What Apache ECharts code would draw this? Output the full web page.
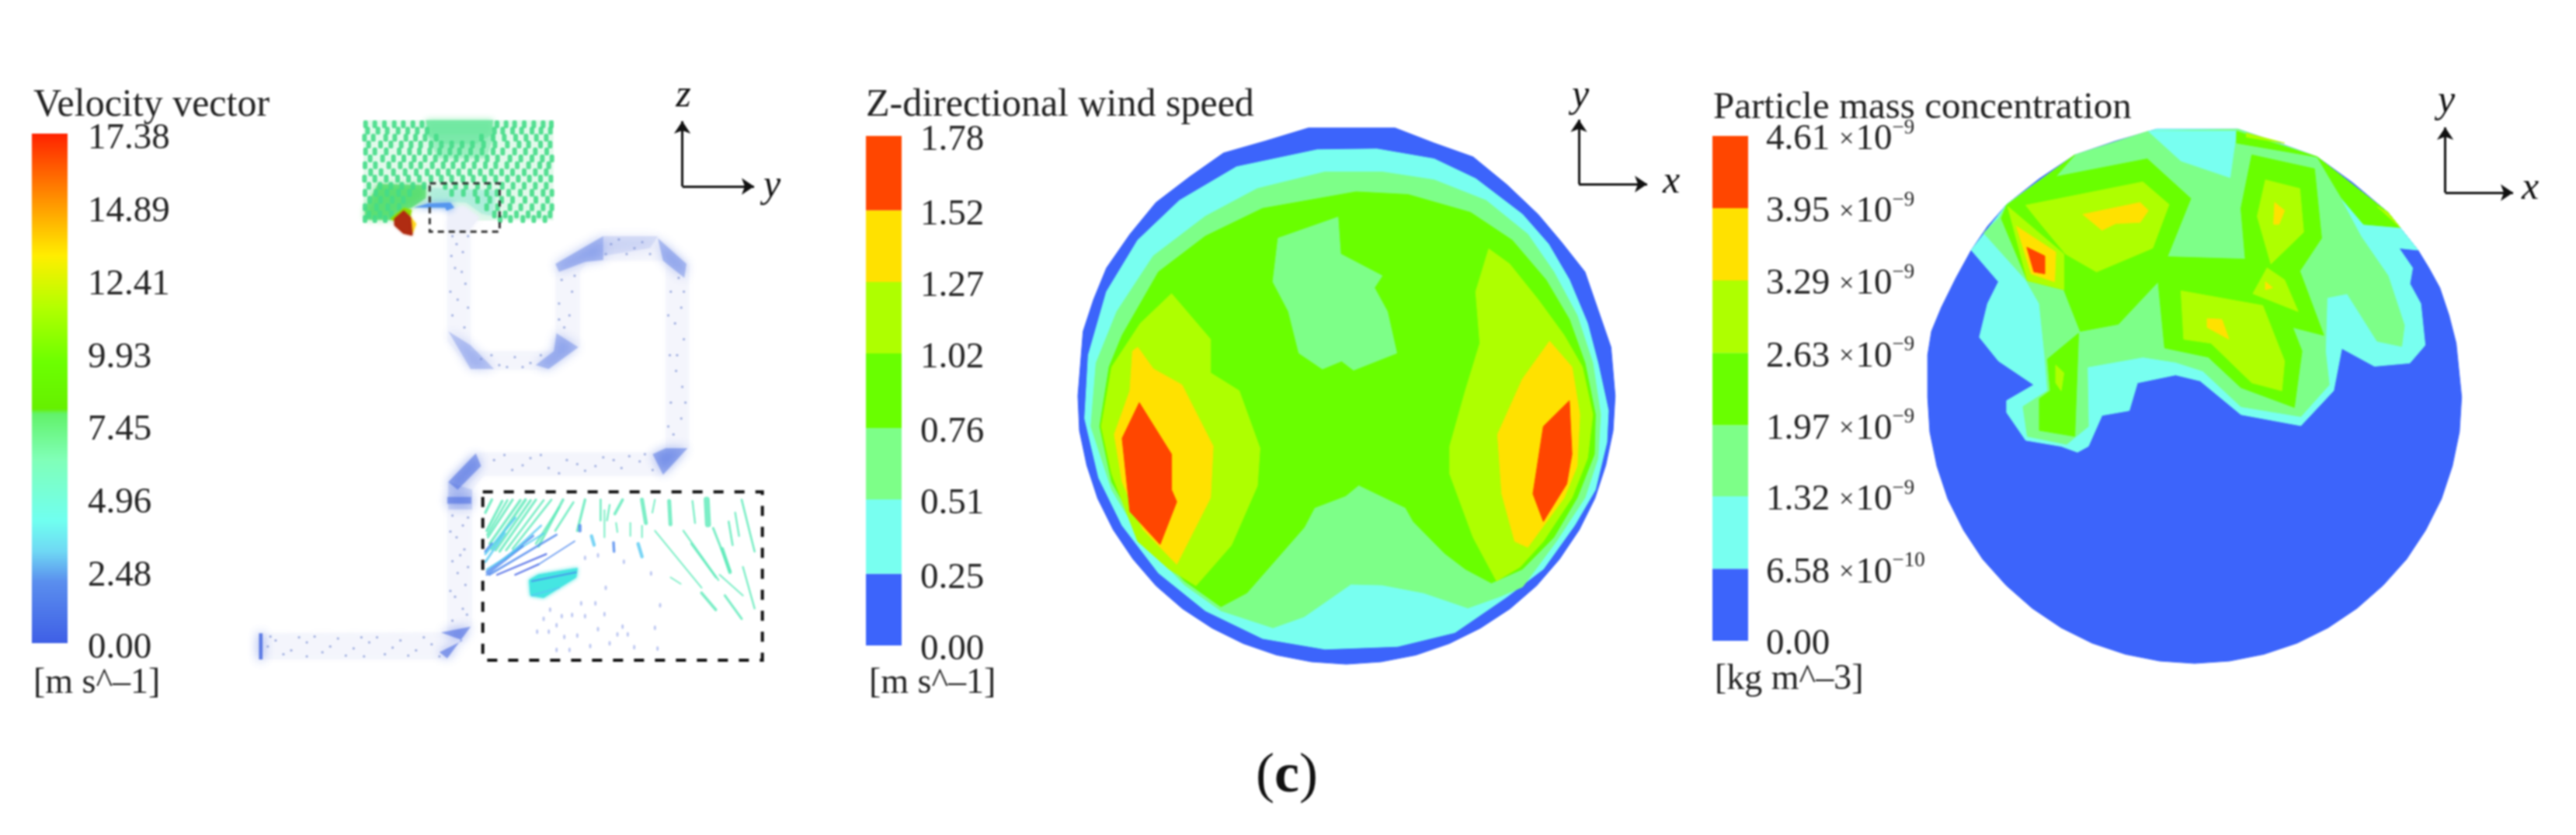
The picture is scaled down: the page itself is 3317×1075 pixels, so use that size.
<!DOCTYPE html>
<html>
<head>
<meta charset="utf-8">
<script src="https://cdn.jsdelivr.net/npm/echarts@6/dist/echarts.min.js"></script>
<style>html,body{margin:0;background:#fff}#main{width:3317px;height:1075px;filter:blur(0.9px)}</style>
</head>
<body>
<div id="main"></div>
<script>
const levelColors = ['#3c64fb', '#78fff0', '#7dff88', '#69ff00', '#aeff00', '#ffe100', '#ff4600'];

// colour bars
const velocityEdges = [0, 2.48, 4.96, 7.45, 9.93, 12.41, 14.89, 17.38];
const windEdges = [0, 0.25, 0.51, 0.76, 1.02, 1.27, 1.52, 1.78];
const particleEdges = [0, 0.658, 1.32, 1.97, 2.63, 3.29, 3.95, 4.61];
const particleLabels = ['0.00', '6.58', '1.32', '1.97', '2.63', '3.29', '3.95', '4.61'];
const particleExps = ['', '\u221210', '\u22129', '\u22129', '\u22129', '\u22129', '\u22129', '\u22129'];
const velocityStops = [
  [0, '#3f5fe6'], [0.12, '#5a8eee'], [0.18, '#6fd8f4'], [0.24, '#70fff0'], [0.36, '#80ffb8'],
  [0.45, '#62f26a'], [0.46, '#66f000'], [0.55, '#6cff00'], [0.66, '#b4ff00'], [0.76, '#ffee00'],
  [0.86, '#ff9a00'], [1, '#ff2200']
];

// wind speed contours, [level, outline]
const windContours = [
  [0, [[888,127],[1055,127],[1130,165],[1205,200],[1270,270],[1330,345],[1375,415],[1420,490],[1445,585],[1470,680],[1478,803],[1474,891],[1460,978],[1439,1062],[1409,1141],[1371,1215],[1327,1282],[1276,1340],[1219,1389],[1159,1428],[1095,1457],[1028,1474],[961,1480],[894,1474],[827,1457],[763,1428],[703,1389],[646,1340],[595,1282],[551,1215],[513,1141],[483,1062],[462,978],[448,891],[445,803],[455,640],[475,560],[500,480],[545,395],[595,315],[660,250],[725,190],[805,160]]],
  [1, [[905,182],[1020,180],[1130,205],[1210,255],[1300,345],[1350,420],[1390,510],[1425,620],[1445,720],[1465,840],[1462,920],[1440,1040],[1400,1130],[1340,1240],[1270,1310],[1170,1400],[1060,1435],[920,1442],[800,1415],[690,1345],[600,1250],[530,1130],[485,1010],[458,860],[465,700],[500,540],[560,410],[640,310],[750,225]]],
  [2, [[1030,238],[1130,258],[1230,310],[1310,395],[1360,490],[1405,600],[1435,720],[1450,850],[1445,960],[1420,1060],[1365,1170],[1300,1285],[1255,1310],[1195,1338],[1110,1300],[1030,1280],[970,1278],[935,1310],[880,1360],[820,1388],[720,1345],[650,1280],[570,1170],[510,1040],[470,880],[480,720],[520,590],[590,450],[690,350],[790,280],[920,238]]],
  [3, [[980,288],[1080,295],[1200,340],[1280,410],[1345,510],[1390,610],[1420,720],[1440,850],[1438,950],[1405,1060],[1360,1160],[1300,1240],[1240,1275],[1190,1240],[1150,1200],[1090,1120],[1075,1085],[985,1028],[960,1055],[900,1085],[880,1135],[770,1300],[720,1335],[650,1270],[570,1160],[510,1020],[487,880],[505,730],[530,650],[600,490],[690,400],[800,330]]],
  [2, [[945,352],[950,445],[1030,500],[1015,530],[1040,590],[1058,695],[975,738],[952,715],[915,735],[870,695],[850,590],[820,515],[830,405]]],
  [4, [[625,545],[700,660],[700,745],[755,790],[795,935],[790,1030],[740,1180],[672,1282],[620,1240],[560,1170],[510,1000],[490,880],[510,730],[565,620]]],
  [4, [[1235,432],[1275,470],[1330,560],[1380,650],[1415,730],[1435,850],[1425,960],[1395,1060],[1340,1170],[1295,1235],[1250,1270],[1205,1160],[1160,1000],[1160,930],[1190,790],[1218,670],[1210,540]]],
  [5, [[560,680],[590,735],[645,775],[705,930],[700,1060],[635,1228],[570,1140],[530,1020],[515,900],[545,790],[550,690]]],
  [5, [[1352,665],[1395,730],[1410,850],[1405,980],[1380,1060],[1310,1185],[1285,1170],[1260,1050],[1252,900],[1300,760]]],
  [6, [[563,820],[625,950],[625,1040],[635,1070],[603,1178],[545,1095],[530,910]]],
  [6, [[1390,815],[1395,950],[1385,1025],[1340,1120],[1320,1050],[1340,880]]]
];

// particle concentration contours
const particleContours = [
  [0, [[865,130],[1015,130],[1090,165],[1160,200],[1225,265],[1290,340],[1345,435],[1365,480],[1385,530],[1402,600],[1415,670],[1425,806],[1421,894],[1408,980],[1388,1063],[1359,1142],[1324,1215],[1281,1281],[1233,1339],[1180,1388],[1123,1427],[1062,1455],[999,1472],[935,1478],[871,1472],[808,1455],[747,1427],[690,1388],[637,1339],[589,1281],[546,1215],[511,1142],[482,1063],[462,980],[449,894],[445,806],[445,700],[452,640],[470,580],[497,505],[525,435],[555,375],[590,320],[650,255],[715,195],[790,160]]],
  [1, [[865,130],[1015,130],[1160,200],[1290,340],[1345,435],[1310,430],[1335,480],[1330,520],[1350,570],[1358,675],[1330,720],[1265,728],[1205,683],[1190,790],[1130,878],[1020,850],[945,765],[900,750],[830,770],[815,840],[765,852],[740,930],[720,945],[690,930],[625,915],[590,845],[590,815],[640,775],[575,715],[540,655],[555,570],[575,515],[525,435],[590,320],[715,195]]],
  [2, [[850,135],[715,195],[590,320],[575,355],[548,392],[625,510],[650,570],[660,700],[665,790],[620,830],[628,905],[700,925],[740,880],[738,730],[840,705],[900,718],[950,740],[1020,830],[1130,855],[1182,775],[1175,690],[1178,555],[1215,545],[1270,665],[1315,678],[1320,625],[1290,500],[1240,400],[1205,310],[1170,220],[1160,200],[1015,130]]],
  [1, [[850,135],[1012,135],[1000,252],[910,210]]],
  [3, [[590,322],[715,195],[680,250],[848,205],[928,305],[885,452],[1028,458],[1020,330],[1040,195],[1155,230],[1168,405],[1128,488],[1172,650],[1115,630],[1132,690],[1118,832],[1020,782],[960,705],[880,682],[868,515],[795,622],[725,640],[702,560],[695,535],[628,512],[580,355]]],
  [3, [[722,645],[665,710],[670,790],[650,810],[650,890],[715,905]]],
  [3, [[1160,200],[1290,340],[1312,378],[1245,370],[1205,305]]],
  [3, [[1012,135],[1160,200],[1012,165]]],
  [4, [[625,322],[840,263],[888,320],[858,430],[755,490],[698,445],[650,365]]],
  [4, [[592,325],[695,445],[695,535],[628,512]]],
  [4, [[1065,258],[1128,280],[1135,390],[1075,470],[1050,350]]],
  [4, [[1068,480],[1100,510],[1125,590],[1042,545]]],
  [4, [[910,538],[1060,575],[1100,715],[1095,790],[1040,770],[965,670],[915,660]]],
  [4, [[680,725],[695,745],[690,790],[680,770]]],
  [4, [[1270,325],[1290,340],[1312,378]]],
  [4, [[1030,140],[1100,165],[1030,150]]],
  [5, [[730,345],[835,315],[850,335],[835,365],[790,368],[765,385]]],
  [5, [[608,375],[680,440],[678,515],[635,495]]],
  [5, [[1082,315],[1100,335],[1090,370],[1080,370]]],
  [5, [[1065,515],[1078,530],[1065,535]]],
  [5, [[958,608],[985,610],[998,660],[958,630]]],
  [6, [[627,428],[660,450],[660,495],[640,490]]]
];

// duct outline and the darker patches in its bends
const ductOutline = [[860,357],[860,665],[905,738],[1055,738],[1115,680],[1115,490],[1130,462],[1280,462],[1280,945],[915,945],[860,1020],[860,1400],[498,1402],[498,1468],[860,1468],[908,1385],[908,1040],[930,1005],[1275,1005],[1325,935],[1325,470],[1265,400],[1160,400],[1068,470],[1068,640],[1060,690],[905,690],[905,357]];
const ductPatches = [
  [0.34, [[1160,400],[1068,470],[1075,490],[1125,465],[1160,460]]],
  [0.12, [[1160,400],[1265,400],[1250,430],[1160,450]]],
  [0.34, [[1265,405],[1320,470],[1316,505],[1275,462]]],
  [0.28, [[862,640],[905,735],[950,735],[905,675]]],
  [0.34, [[1112,680],[1055,735],[1030,725],[1065,690],[1070,645]]],
  [0.45, [[1322,935],[1275,1002],[1255,950],[1280,935]]],
  [0.5, [[915,948],[862,1020],[880,1040],[925,980]]],
  [0.18, [[862,1020],[908,1040],[908,1090],[862,1090]]],
  [0.5, [[860,1058],[906,1058],[906,1075],[860,1075]]],
  [0.55, [[905,1385],[860,1465],[845,1450],[890,1420],[848,1400]]],
  [0.8, [[498,1402],[505,1402],[505,1468],[498,1468]]]
];
const ductDots = [
  [530,1420],[560,1445],[590,1425],[620,1450],[650,1415],[680,1440],[710,1425],[740,1455],[770,1420],[800,1445],[830,1430],[545,1455],[605,1410],[665,1458],[725,1412],[785,1458],
  [515,1435],[575,1412],[635,1435],[695,1412],[755,1438],[815,1412],[845,1460],[520,1410],[700,1460],[590,1460],
  [870,1370],[890,1340],[875,1310],[895,1280],[880,1250],[870,1220],[893,1190],[878,1160],[890,1130],[870,1105],[898,1355],[866,1295],[900,1235],[885,1205],[866,1145],[900,1110],
  [950,965],[985,990],[1020,960],[1055,985],[1090,965],[1125,992],[1160,958],[1195,985],[1230,968],[1255,990],[970,952],[1075,998],[1210,955],[1005,978],[1040,952],[1110,975],[1145,980],[1180,965],[1240,950],
  [1295,900],[1310,860],[1290,820],[1312,780],[1300,740],[1288,700],[1315,660],[1298,620],[1310,580],[1290,540],[1305,505],[1285,880],[1318,820],[1302,700],[1285,600],[1315,540],
  [1175,420],[1205,445],[1235,415],[1190,408],[1220,430],[1250,445],[1165,445],
  [1080,510],[1100,540],[1075,570],[1095,600],[1085,630],[1105,500],[1075,610],
  [925,710],[960,725],[990,705],[1020,720],[945,700],[975,730],[1040,700],[1005,730],
  [870,400],[890,440],[875,480],[895,520],[880,560],[870,600],[893,630],[878,420],[888,490],[900,400],[866,540],[900,580],[868,450]
];

// green vector field in the cavity, one row per line: y then the x values
const cavityRows = [
  [60, 92,128,165,203,238,275,310,600,635,668,705,742,778,810],
  [85, 100,140,176,218,255,292,330,590,622,660,695,735,770,806],
  [112, 88,122,170,205,248,285,322,365,540,585,628,672,712,752,790],
  [138, 104,150,190,230,268,305,345,385,425,465,505,548,592,640,685,722,768,805],
  [165, 92,128,172,222,262,300,340,378,418,455,498,542,585,622,668,710,748,792],
  [192, 110,158,200,240,280,322,362,402,442,482,522,562,602,650,692,735,775,812],
  [218, 90,130,182,226,268,305,350,392,430,470,512,555,595,638,678,722,765,800],
  [245, 112,152,200,245,288,330,372,412,452,495,535,578,618,660,705,748,790],
  [270, 88,128,172,216,258,300,345,385,425,468,508,552,595,640,682,725,768,808],
  [298, 105,148,190,232,275,318,400,440,480,525,570,620,662,705,748,790],
  [325, 90,132,175,220,262,425,470,515,560,600,645,690,735,778,812],
  [352, 108,150,195,238,525,572,618,660,708,750,795],
  [380, 90,135,178,222,560,602,650,692,735,778,812],
  [408, 105,148,192,590,632,675,720,762,805],
  [426, 90,128,168,612,652,700,742,785]
];
const cavityFills = [
  ['#6fe8a0', 0.85, [[325,44],[585,44],[580,100],[520,135],[400,135],[335,105]]],
  ['#7fe9ae', 0.45, [[330,100],[590,100],[560,190],[370,190]]],
  ['#4fdc66', 0.7, [[140,290],[325,295],[325,345],[270,382],[232,395],[190,430],[90,428],[90,385]]],
  ['#96e8d4', 0.45, [[340,305],[595,315],[585,415],[540,405],[480,362],[430,360],[340,358]]],
  ['#4a8eee', 0.85, [[278,382],[335,365],[420,362],[435,382],[405,394],[400,382]]]
];
const cavitySolid = [
  ['#8fe000', 1, [[190,425],[240,385],[268,392],[262,420],[225,440]]],
  ['#ffdc20', 1, [[262,415],[286,445],[272,480]]],
  ['#b02c12', 1, [[205,425],[240,395],[265,420],[272,488],[238,480],[205,450]]]
];
const ductTop = [[410,395],[470,375],[530,420],[490,470],[410,470]];
const cavityBack = [[84,44],[818,44],[818,432],[84,432]];
const cavityGap = [[268,385],[410,385],[410,432],[268,432]];

// inset: arrows as x1, y1, x2, y2, width, kind
const insetSegments = [
  [70,70,45,120,9,0],[110,75,50,190,9,0],[130,72,52,205,7,0],[150,70,55,215,8,0],[180,72,62,240,9,0],[200,70,70,260,10,0],[220,72,85,265,8,0],[240,70,100,270,8,0],[270,72,125,265,7,0],[300,70,150,260,7,0],[345,70,250,250,9,0],[330,100,240,240,7,0],[385,80,315,190,7,0],[430,70,400,190,9,0],
  [70,240,45,270,9,1],[230,210,50,350,7,1],[270,200,50,340,6,3],[320,205,60,360,7,1],[280,280,90,360,6,2],[250,320,160,360,6,2],[390,230,250,320,4,1],[160,140,45,280,8,3],[260,170,120,300,7,3],[120,200,45,310,8,3],[190,250,50,360,6,1],
  [490,70,490,150,7,0],[525,90,515,150,6,0],[575,70,545,125,10,0],[650,70,665,160,14,0],[700,70,690,120,5,0],[755,75,760,165,14,0],[845,75,855,160,6,0],[900,70,905,165,22,0],[1035,70,1085,270,7,0],[1010,120,1025,210,6,0],[985,155,1000,245,7,0],[925,180,990,345,8,0],[700,190,880,410,5,0],[810,190,945,380,6,0],[840,240,935,370,6,0],[880,430,935,495,10,0],[1040,330,1085,490,6,0],[970,440,1035,530,8,0],[960,260,990,350,13,0],[950,360,1040,440,5,0],[760,370,800,395,4,0],
  [455,210,465,245,12,3],[540,235,542,270,9,1],[635,240,650,290,12,3],[410,170,410,190,12,1],[605,160,605,210,5,0],[650,170,650,215,5,0],[550,160,555,195,5,0],[505,110,505,215,5,0],
  [225,385,395,350,5,1],[225,440,330,410,6,3]
];
const insetBlob = [[215,380],[250,360],[340,345],[400,335],[395,370],[330,410],[270,448],[220,440]];
const insetSpecks = [[430,520],[505,512],[295,495],[290,580],[480,570],[575,560],[700,565],[720,478],[525,625],[450,635],[350,600],[415,470],[245,580],[400,595],[270,530],[510,410],[620,640],[710,645],[320,650],[370,650],[430,295],[480,285],[580,310],[685,355],[470,470],[340,520],[380,515],[320,555],[555,590],[595,590]];
const insetFrame = [35, 40, 1115, 690];
const cavityFrame = [340, 288, 610, 475];

// axis triads [corner, top of z or y arrow, end of y or x arrow]
const triads = [
  [[878.6,240],[878.6,156],[971,240]],
  [[2033,237],[2033,154],[2121,237]],
  [[3148.6,248],[3148.6,164],[3236,248]]
];

const segColors = ['#5aeab8', '#4a86ee', '#3d5ce4', '#58cbf2'];
const FONT = '"Liberation Serif"';

function hiddenAxes(id, xMax, yMax, grid) {
  return {
    x: { id: 'x' + id, type: 'value', gridIndex: grid, min: 0, max: xMax, show: false },
    y: { id: 'y' + id, type: 'value', gridIndex: grid, min: 0, max: yMax, inverse: true, show: false }
  };
}

function polygonSeries(axis, shapes, z, blur) {
  // shapes: [fill, opacity, outline]
  return {
    type: 'custom', xAxisIndex: axis, yAxisIndex: axis, z: z, silent: true, clip: false,
    animation: false,
    data: shapes.map((s, i) => [i]),
    renderItem: (params, api) => {
      const s = shapes[params.dataIndex];
      return {
        type: 'polygon',
        shape: { points: s[2].map(p => api.coord(p)) },
        style: {
          fill: s[0], opacity: s[1], stroke: s[1] === 1 ? s[0] : 'none', lineWidth: 1,
          shadowBlur: blur || 0, shadowColor: s[0]
        }
      };
    }
  };
}

function frameSeries(axis, box, color, width, dash, z) {
  return {
    type: 'custom', xAxisIndex: axis, yAxisIndex: axis, z: z, silent: true, clip: false,
    animation: false,
    data: [box],
    renderItem: (params, api) => {
      const a = api.coord([api.value(0), api.value(1)]);
      const b = api.coord([api.value(2), api.value(3)]);
      return {
        type: 'rect',
        shape: { x: a[0], y: a[1], width: b[0] - a[0], height: b[1] - a[1] },
        style: { fill: 'none', stroke: color, lineWidth: width, lineDash: dash }
      };
    }
  };
}

function barAxis(grid, edges, margin, shift, formatter, rich) {
  return {
    type: 'value', gridIndex: grid, min: edges[0], max: edges[edges.length - 1], position: 'right',
    axisLine: { show: false }, axisTick: { show: false }, splitLine: { show: false },
    axisLabel: {
      customValues: edges, margin: margin, align: 'left', verticalAlign: 'top', lineHeight: shift,
      color: '#222', fontFamily: FONT, fontSize: 47, formatter: formatter, rich: rich
    }
  };
}

function barSeries(axis, edges, stops) {
  return {
    type: 'custom', xAxisIndex: axis, yAxisIndex: axis, silent: true, animation: false,
    data: edges.slice(1).map((e, i) => [edges[i], e, i]),
    renderItem: (params, api) => {
      const low = api.coord([0, api.value(0)]);
      const high = api.coord([1, api.value(1)]);
      const fill = stops
        ? new echarts.graphic.LinearGradient(0, 1, 0, 0, stops.map(s => ({ offset: s[0], color: s[1] })))
        : levelColors[api.value(2)];
      return {
        type: 'rect',
        shape: { x: low[0], y: high[1], width: high[0] - low[0], height: low[1] - high[1] },
        style: { fill: fill }
      };
    }
  };
}

const pipeA = hiddenAxes('pipe', 1568, 1568, 0);
const windA = hiddenAxes('wind', 1568, 1568, 1);
const partA = hiddenAxes('part', 1568, 1568, 2);
const insetA = hiddenAxes('inset', 1170, 720, 3);
const cavA = hiddenAxes('cav', 900, 540, 4);
const figA = hiddenAxes('fig', 3317, 1075, 5);

const barX = g => ({ type: 'value', gridIndex: g, min: 0, max: 1, show: false });

const cavityDots = [];
cavityRows.forEach(r => r.slice(1).forEach(x => cavityDots.push([x, r[0]])));

const titleText = (text, x, y, size) => ({
  type: 'text', x: x, y: y,
  style: { text: text, fill: '#222', font: size + 'px ' + FONT, verticalAlign: 'middle' }
});
const axisLetter = (text, x, y) => ({
  type: 'text', x: x, y: y,
  style: { text: text, fill: '#111', font: 'italic 50px ' + FONT, align: 'center', verticalAlign: 'middle' }
});

const particleRich = {
  n: { fontFamily: FONT, fontSize: 47, color: '#222', lineHeight: 10 },
  t: { fontFamily: FONT, fontSize: 34, color: '#222', lineHeight: 10, padding: [0, 2, 0, 12] },
  e: { fontFamily: FONT, fontSize: 27, color: '#222', lineHeight: 10, padding: [0, 0, 30, 0] }
};

const option = {
  animation: false,
  backgroundColor: '#fff',
  grid: [
    { left: 0, top: 100, width: 1050, height: 800 },
    { left: 1090, top: 100, width: 1050, height: 800 },
    { left: 2170, top: 100, width: 1100, height: 800 },
    { left: 610, top: 620, width: 390, height: 240 },
    { left: 440, top: 140, width: 300, height: 180 },
    { left: 0, top: 0, width: 3317, height: 1075 },
    { left: 41, top: 172, width: 46, height: 656 },
    { left: 1115, top: 175, width: 46, height: 656 },
    { left: 2205, top: 175, width: 46, height: 650 }
  ],
  xAxis: [pipeA.x, windA.x, partA.x, insetA.x, cavA.x, figA.x, barX(6), barX(7), barX(8)],
  yAxis: [
    pipeA.y, windA.y, partA.y, insetA.y, cavA.y, figA.y,
    barAxis(6, velocityEdges, 26, 14, v => v.toFixed(2)),
    barAxis(7, windEdges, 24, 12, v => v.toFixed(2)),
    barAxis(8, particleEdges, 23, 10, v => {
      const i = particleEdges.indexOf(v);
      return i === 0 ? '{n|0.00}' : '{n|' + particleLabels[i] + '}{t|\u00d7}{n|10}{e|' + particleExps[i] + '}';
    }, particleRich)
  ],
  graphic: { elements: [
    titleText('Velocity vector', 43, 136, 50),
    titleText('Z-directional wind speed', 1115, 136, 50),
    titleText('Particle mass concentration', 2206, 139, 49),
    titleText('[m s^\u20131]', 43, 880, 46),
    titleText('[m s^\u20131]', 1119, 880, 46),
    titleText('[kg m^\u20133]', 2208, 875, 46),
    axisLetter('z', 880, 124), axisLetter('y', 994, 240),
    axisLetter('y', 2035, 124), axisLetter('x', 2152, 235),
    axisLetter('y', 3150, 131), axisLetter('x', 3258, 243),
    { type: 'text', x: 1657, y: 1000, style: {
      text: '({b|c})', fill: '#111', font: '72px ' + FONT, align: 'center', verticalAlign: 'middle',
      rich: { b: { font: 'bold 72px ' + FONT, fill: '#111' } }
    } }
  ] },
  series: [
    barSeries(6, [velocityEdges[0], velocityEdges[7]], velocityStops),
    barSeries(7, windEdges),
    barSeries(8, particleEdges),

    polygonSeries(1, windContours.map(c => [levelColors[c[0]], 1, c[1]]), 2),
    polygonSeries(2, particleContours.map(c => [levelColors[c[0]], 1, c[1]]), 2),

    polygonSeries(0, [['#f1f3fb', 0.55, ductOutline]], 2, 6),
    polygonSeries(0, ductPatches.map(p => ['#3f63e0', p[0], p[1]]), 3, 14),
    {
      type: 'scatter', xAxisIndex: 0, yAxisIndex: 0, z: 4, silent: true, animation: false,
      symbolSize: 3, itemStyle: { color: '#7f93d4', opacity: 0.8 }, data: ductDots
    },

    polygonSeries(4, [['#c6f4d8', 0.5, cavityBack]], 5),
    polygonSeries(4, [['#ffffff', 1, cavityGap]], 6),
    polygonSeries(4, [['#eef0fa', 1, ductTop]], 6, 6),
    polygonSeries(4, cavityFills, 6, 8),
    {
      type: 'scatter', xAxisIndex: 4, yAxisIndex: 4, z: 6, silent: true, animation: false,
      symbol: 'roundRect', symbolSize: [6, 10], itemStyle: { color: '#45dc88', opacity: 0.9 }, data: cavityDots
    },
    polygonSeries(4, cavitySolid, 7, 3),
    frameSeries(4, cavityFrame, '#333', 3, [8, 6], 8),

    {
      type: 'custom', xAxisIndex: 3, yAxisIndex: 3, z: 9, silent: true, clip: false, animation: false,
      data: insetSegments,
      renderItem: (params, api) => {
        const a = api.coord([api.value(0), api.value(1)]);
        const b = api.coord([api.value(2), api.value(3)]);
        return {
          type: 'line',
          shape: { x1: a[0], y1: a[1], x2: b[0], y2: b[1] },
          style: { stroke: segColors[api.value(5)], lineWidth: api.value(4) / 3 + 0.4, opacity: 0.8, lineCap: 'round' }
        };
      }
    },
    polygonSeries(3, [['#45e6e2', 1, insetBlob]], 8, 5),
    {
      type: 'scatter', xAxisIndex: 3, yAxisIndex: 3, z: 9, silent: true, animation: false,
      symbolSize: [3, 6], itemStyle: { color: '#b4c0ef', opacity: 0.9 }, data: insetSpecks
    },
    frameSeries(3, insetFrame, '#111', 4, [13, 14], 10),

    {
      type: 'lines', coordinateSystem: 'cartesian2d', xAxisIndex: 5, yAxisIndex: 5, z: 12,
      silent: true, animation: false, symbol: ['none', 'arrow'], symbolSize: 16,
      lineStyle: { color: '#111', width: 3, opacity: 1 },
      data: triads.flatMap(t => [{ coords: [t[0], t[1]] }, { coords: [t[0], t[2]] }])
    }
  ]
};

const chart = echarts.init(document.getElementById('main'));
chart.setOption(option);
</script>
</body>
</html>
